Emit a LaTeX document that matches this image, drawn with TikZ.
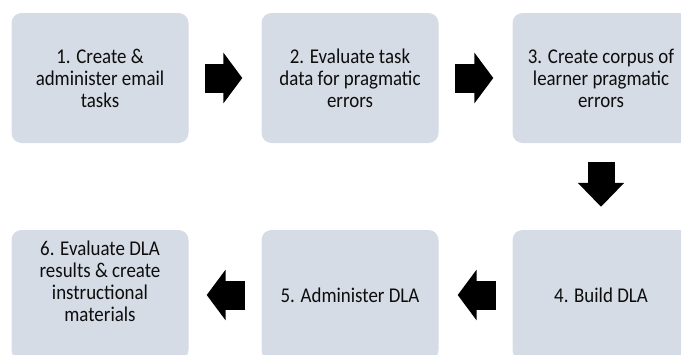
\documentclass[tikz,border=0pt]{standalone}
\usepackage{fontspec}
\setmainfont{Carlito}[FakeStretch=0.9]
\usetikzlibrary{arrows.meta}
\definecolor{boxfill}{RGB}{214,220,229}
\definecolor{inktext}{RGB}{13,13,13}

\begin{document}
\begin{tikzpicture}[x=1pt,y=-1pt,
    stage/.style = {fill=boxfill, rounded corners=10pt, minimum width=177pt, minimum height=130pt,
        align=center, text=inktext, font=\fontsize{21}{22}\selectfont},
    flow/.style = {line width=29pt, -{Triangle[length=19pt,width=50pt]}},
    flowdown/.style = {line width=27pt, -{Triangle[length=24pt,width=45pt]}}]
        \clip (0,0) rectangle (681,354);
        \node[stage] (1) at (100,78) {1. Create \&\\administer email\\tasks};
        \node[stage] (2) at (350,78) {2. Evaluate task\\data for pragmatic\\errors};
        \node[stage] (3) at (601,78) {3. Create corpus of\\learner pragmatic\\errors};
        \node[stage] (4) at (601,295) {4. Build DLA};
        \node[stage] (5) at (350,295) {5. Administer DLA};
        \node[stage] (6) at (100,295) {};
        \node[align=center, text=inktext, font=\fontsize{21}{22}\selectfont] (6t) at (100,281)
            {6. Evaluate DLA\\results \& create\\instructional\\materials};
        \draw[flow] ([xshift=16pt]1.east) -- ([xshift=-19pt]2.west);
        \draw[flow] ([xshift=16pt]2.east) -- ([xshift=-19pt]3.west);
        \draw[flowdown] ([yshift=-19pt]3.south) -- ([yshift=23pt]4.north);
        \draw[flow] ([xshift=-16pt]4.west) -- ([xshift=19pt]5.east);
        \draw[flow] ([xshift=-16pt]5.west) -- ([xshift=18pt]6.east);
\end{tikzpicture}
\end{document}
